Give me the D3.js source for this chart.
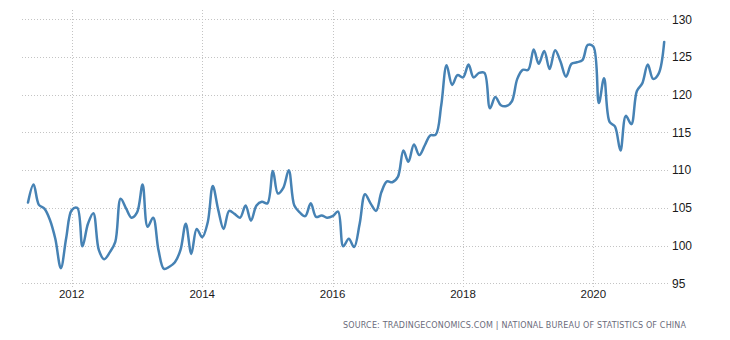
<!DOCTYPE html>
<html>
<head>
<meta charset="utf-8">
<script src="https://cdn.jsdelivr.net/npm/d3@7"></script>
<style>
  html, body { margin: 0; padding: 0; background: #ffffff; }
  svg { display: block; }
</style>
</head>
<body>
<svg id="chart" width="730" height="340"></svg>
<script>
// China consumer confidence index, monthly, May 2011 – Feb 2021
const firstMonth = "2011-05";
const values2011 = [105.7, 108.1, 105.4, 104.9, 103.4, 100.9, 97.0, 101.0];
const values2012 = [104.7, 105.0, 99.9, 102.9, 104.3, 99.4, 98.2, 99.1, 100.5, 106.2, 104.9, 103.7];
const values2013 = [104.4, 108.1, 102.5, 103.7, 99.4, 96.9, 97.2, 97.8, 99.4, 102.9, 98.9, 102.2];
const values2014 = [101.1, 103.1, 107.9, 104.7, 102.2, 104.6, 104.2, 103.7, 105.3, 103.3, 105.3, 105.8];
const values2015 = [105.6, 109.9, 106.9, 107.7, 110.0, 105.3, 104.4, 103.9, 105.6, 103.8, 104.0, 103.7];
const values2016 = [103.9, 104.5, 99.9, 100.9, 99.8, 102.9, 106.8, 105.6, 104.6, 107.1, 108.5, 108.4];
const values2017 = [109.1, 112.6, 111.1, 113.4, 112.0, 113.3, 114.6, 114.7, 118.6, 123.9, 121.3, 122.6];
const values2018 = [122.3, 124.0, 122.3, 122.9, 122.9, 118.2, 119.7, 118.6, 118.5, 119.1, 122.1, 123.3];
const values2019 = [123.3, 126.0, 124.1, 125.8, 123.4, 125.9, 124.4, 122.4, 124.1, 124.3, 124.6, 126.6];
const values2020 = [126.4, 118.9, 122.2, 116.4, 115.8, 112.6, 117.2, 116.1, 120.5, 121.5, 124.0, 122.1];
const values2021 = [122.8, 127.0];

const yearTicks = [2012, 2014, 2016, 2018, 2020];
const valueTicks = [95, 100, 105, 110, 115, 120, 125, 130];
const sourceText = "SOURCE: TRADINGECONOMICS.COM | NATIONAL BUREAU OF STATISTICS OF CHINA";

const allValues = [].concat(values2011, values2012, values2013, values2014, values2015,
  values2016, values2017, values2018, values2019, values2020, values2021);
const start = d3.timeParse("%Y-%m")(firstMonth);
const data = allValues.map((v, i) => ({ date: d3.timeMonth.offset(start, i), value: v }));

const svg = d3.select("#chart");

const x = d3.scaleTime()
  .domain(d3.extent(data, d => d.date))
  .range([28, 664.2]);

const y = d3.scaleLinear()
  .domain([95, 130])
  .range([283.3, 19.3]);

const gridLeft = 22, gridRight = 668;
const plotTop = 10, plotBottom = 288;

// horizontal dotted grid
svg.append("g")
  .selectAll("line")
  .data(valueTicks)
  .join("line")
  .attr("x1", gridLeft)
  .attr("x2", gridRight)
  .attr("y1", d => Math.round(y(d)) + 0.5)
  .attr("y2", d => Math.round(y(d)) + 0.5)
  .attr("stroke", "#c4c4c4")
  .attr("stroke-width", 1)
  .attr("stroke-dasharray", "1,2");

// vertical dotted grid at year starts
svg.append("g")
  .selectAll("line")
  .data(yearTicks)
  .join("line")
  .attr("x1", d => Math.round(x(new Date(d, 0, 1))) + 0.5)
  .attr("x2", d => Math.round(x(new Date(d, 0, 1))) + 0.5)
  .attr("y1", plotTop)
  .attr("y2", plotBottom)
  .attr("stroke", "#c4c4c4")
  .attr("stroke-width", 1)
  .attr("stroke-dasharray", "1,2");

// y-axis labels on the right
svg.append("g")
  .selectAll("text")
  .data(valueTicks)
  .join("text")
  .attr("x", 672)
  .attr("y", d => y(d))
  .attr("dy", "0.35em")
  .attr("font-family", "Arial, 'Liberation Sans', sans-serif")
  .attr("font-size", 12)
  .attr("fill", "#1a1a1a")
  .text(d => d);

// year labels
svg.append("g")
  .selectAll("text")
  .data(yearTicks)
  .join("text")
  .attr("x", d => x(new Date(d, 0, 1)))
  .attr("y", 298)
  .attr("text-anchor", "middle")
  .attr("font-family", "Arial, 'Liberation Sans', sans-serif")
  .attr("font-size", 11.5)
  .attr("fill", "#1a1a1a")
  .text(d => d);

// series line, smoothed spline through the monthly points
const line = d3.line()
  .x(d => x(d.date))
  .y(d => y(d.value))
  .curve(d3.curveCatmullRom.alpha(0.5));

svg.append("path")
  .datum(data)
  .attr("d", line)
  .attr("fill", "none")
  .attr("stroke", "#4682b4")
  .attr("stroke-width", 2.5)
  .attr("stroke-linejoin", "round")
  .attr("stroke-linecap", "round");

// source note
svg.append("text")
  .attr("x", 343)
  .attr("y", 328)
  .attr("textLength", 343)
  .attr("lengthAdjust", "spacing")
  .attr("font-family", "Verdana, 'DejaVu Sans', sans-serif")
  .attr("font-size", 8)
  .attr("fill", "#6b6b7b")
  .text(sourceText);
</script>
</body>
</html>
